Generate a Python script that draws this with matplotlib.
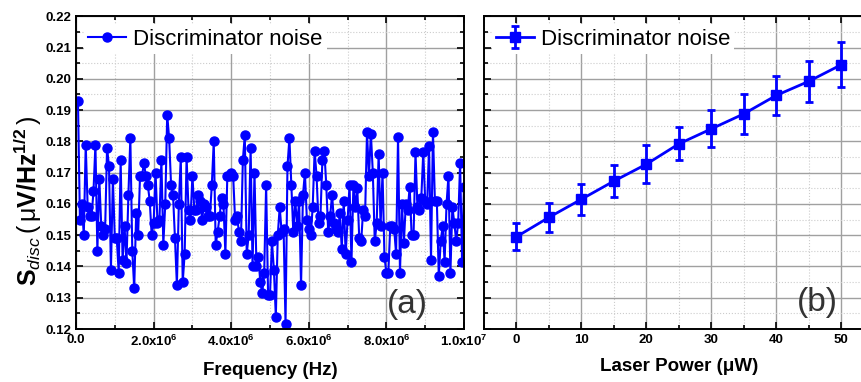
import numpy as np
import matplotlib.pyplot as plt
from matplotlib.ticker import MultipleLocator, FuncFormatter

plt.rcParams["font.family"] = ["Liberation Sans", "DejaVu Sans"]
plt.rcParams["mathtext.fontset"] = "custom"
plt.rcParams["mathtext.rm"] = "Liberation Sans"
plt.rcParams["mathtext.bf"] = "Liberation Sans:bold"
plt.rcParams["mathtext.it"] = "Liberation Sans:italic"

# (a) noise spectrum, one point every 50 kHz
FREQ_STEP = 5e4
noise_spec = [
    0.193, 0.155, 0.160, 0.150, 0.179, 0.159, 0.156, 0.156, 0.164, 0.179,
    0.145, 0.168, 0.153, 0.150, 0.152, 0.178, 0.172, 0.139, 0.168, 0.149,
    0.149, 0.138, 0.174, 0.142, 0.153, 0.141, 0.163, 0.181, 0.145, 0.133,
    0.157, 0.150, 0.169, 0.169, 0.173, 0.169, 0.166, 0.161, 0.150,
    0.154, 0.170, 0.154, 0.155, 0.174, 0.147, 0.160, 0.1885, 0.181, 0.166,
    0.163, 0.149, 0.134, 0.160, 0.175, 0.135, 0.144, 0.175, 0.158, 0.155,
    0.169, 0.158, 0.158, 0.163, 0.161, 0.155, 0.160, 0.159, 0.156, 0.156,
    0.166, 0.180, 0.147, 0.151, 0.156, 0.162, 0.160, 0.144, 0.169,
    0.169, 0.170, 0.169, 0.155, 0.156, 0.151, 0.148, 0.174, 0.182, 0.144,
    0.150, 0.178, 0.140, 0.170, 0.140, 0.143, 0.135, 0.1315, 0.138, 0.166,
    0.131, 0.131, 0.148, 0.139, 0.124, 0.150, 0.159, 0.151, 0.152, 0.1216,
    0.172, 0.181, 0.166, 0.151, 0.161, 0.153, 0.161, 0.134, 0.163, 0.170,
    0.155,
    0.152, 0.150, 0.159, 0.177, 0.169, 0.154, 0.156, 0.174, 0.177, 0.166,
    0.151, 0.156, 0.163, 0.154, 0.152, 0.151, 0.157, 0.1455, 0.161, 0.144,
    0.155, 0.166, 0.1415, 0.166, 0.159, 0.165, 0.149, 0.148, 0.158, 0.156,
    0.183, 0.169, 0.1825, 0.170, 0.148, 0.154, 0.176, 0.153, 0.170, 0.143,
    0.138,
    0.138, 0.153, 0.153, 0.152, 0.144, 0.1815, 0.138, 0.160, 0.1475, 0.160,
    0.158, 0.1655, 0.150, 0.150, 0.1765, 0.159, 0.158, 0.162, 0.1765, 0.161,
    0.160, 0.1785, 0.142, 0.183, 0.161, 0.161, 0.137, 0.148, 0.153, 0.1415,
    0.160, 0.169, 0.138, 0.159, 0.154, 0.148, 0.154, 0.173, 0.1415, 0.1655,
]

# (b) noise vs laser power
laser_power = [0, 5, 10, 15, 20, 25, 30, 35, 40, 45, 50]
power_noise = [0.1495, 0.1557, 0.1615, 0.1673, 0.1727, 0.1792, 0.1840,
               0.1888, 0.1947, 0.1992, 0.2045]
power_err = [0.0043, 0.0047, 0.0049, 0.0052, 0.0060, 0.0053, 0.0059,
             0.0064, 0.0062, 0.0066, 0.0072]

TICK_FS = 9.5
LABEL_FS = 13.5


def style_axes(ax):
    ax.tick_params(which="both", direction="in", top=True, right=True,
                   width=1.2, labelsize=TICK_FS)
    ax.tick_params(which="major", length=5)
    ax.tick_params(which="minor", length=3)
    ax.grid(which="major", color="#a0a0a0", lw=1.0)
    ax.grid(which="minor", color="#cccccc", lw=0.8, ls=":")
    ax.set_axisbelow(True)
    for s in ax.spines.values():
        s.set_linewidth(1.4)
    for lab in ax.get_xticklabels() + ax.get_yticklabels():
        lab.set_fontweight("bold")


def sci_fmt(x, pos):
    if abs(x) < 1:
        return "0.0"
    if x < 0:
        return ""
    e = int(np.floor(np.log10(x) + 1e-9))
    m = x / 10 ** e
    return r"$\mathbf{%.1fx10^{%d}}$" % (m, e)


def add_legend(ax):
    leg = ax.legend(loc="upper left", fontsize=16, handlelength=1.7,
                    frameon=True, fancybox=False, framealpha=1,
                    facecolor="white", edgecolor="none",
                    borderaxespad=0.35, borderpad=0.2, handletextpad=0.3)
    return leg


def main():
    fig = plt.figure(figsize=(8.61, 3.82), dpi=100)
    ax1 = fig.add_axes([0.0883, 0.1387, 0.4506, 0.8186])
    ax2 = fig.add_axes([0.5621, 0.1387, 0.4526, 0.8186])

    freq = FREQ_STEP * (np.arange(len(noise_spec)) + 1)
    ax1.plot(freq, noise_spec, color="blue", lw=1.5, marker="o", ms=6.5,
             label="Discriminator noise")
    ax1.set_xlim(0, 1e7)
    ax1.set_ylim(0.12, 0.22)
    ax1.xaxis.set_major_locator(MultipleLocator(2e6))
    ax1.xaxis.set_minor_locator(MultipleLocator(1e6))
    ax1.xaxis.set_major_formatter(FuncFormatter(sci_fmt))
    ax1.yaxis.set_major_locator(MultipleLocator(0.01))
    ax1.yaxis.set_minor_locator(MultipleLocator(0.005))
    ax1.yaxis.set_major_formatter(FuncFormatter(lambda v, p: f"{v:.2f}"))
    style_axes(ax1)
    ax1.set_xlabel("Frequency (Hz)", fontsize=LABEL_FS, fontweight="bold",
                   labelpad=9)
    ax1.set_ylabel(r"$\mathbf{S}_{\mathit{disc}}\,\mathrm{(}\,\mathrm{μ}"
                   r"\mathbf{V/Hz}^{\mathbf{1/2}}\,\mathrm{)}$",
                   fontsize=18, labelpad=1, y=0.41)
    add_legend(ax1)
    ax1.text(0.853, 0.077, "(a)", transform=ax1.transAxes, fontsize=24,
             color="#333333", ha="center", va="center")

    ax2.errorbar(laser_power, power_noise, yerr=power_err, color="blue",
                 lw=2, marker="s", ms=6.5, elinewidth=2, capsize=3,
                 capthick=2, label="Discriminator noise")
    ax2.set_xlim(-5, 55)
    ax2.set_ylim(0.12, 0.22)
    ax2.xaxis.set_major_locator(MultipleLocator(10))
    ax2.xaxis.set_minor_locator(MultipleLocator(5))
    ax2.yaxis.set_major_locator(MultipleLocator(0.01))
    ax2.yaxis.set_minor_locator(MultipleLocator(0.005))
    style_axes(ax2)
    ax2.tick_params(labelleft=False)
    ax2.set_xlabel("Laser Power (μW)", fontsize=LABEL_FS, fontweight="bold",
                   labelpad=9)
    add_legend(ax2)
    ax2.text(0.855, 0.086, "(b)", transform=ax2.transAxes, fontsize=24,
             color="#333333", ha="center", va="center")

    fig.savefig("out.png", dpi=100)
    plt.close(fig)


if __name__ == "__main__":
    main()
